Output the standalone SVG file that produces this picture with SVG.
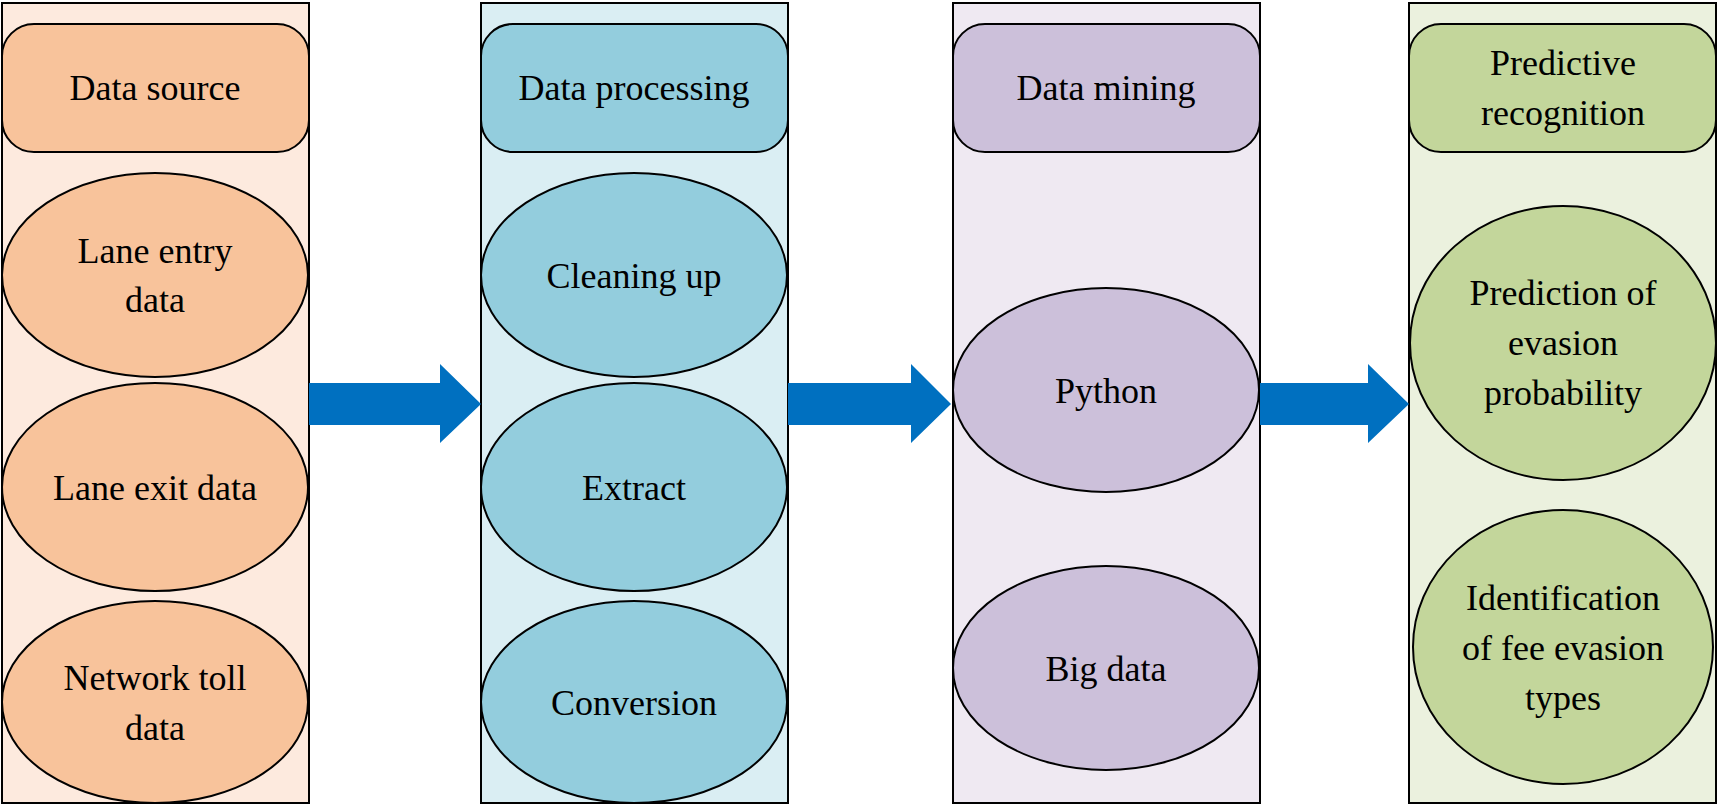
<svg xmlns="http://www.w3.org/2000/svg" width="1725" height="805" viewBox="0 0 1725 805">
<style>
text{font-family:"Liberation Serif","Times New Roman",serif;font-size:36px;fill:#000;text-anchor:middle}
.s{stroke:#000;stroke-width:2}
.a{fill:#0070c0}
</style>
<rect width="1725" height="805" fill="#fff"/>
<g id="panel1">
<rect class="s" x="2" y="3" width="307" height="800" fill="#fdeade"/>
<rect class="s" x="2" y="24" width="307" height="128" rx="32" fill="#f8c39b"/>
<text x="155" y="100">Data source</text>
<ellipse class="s" cx="155" cy="275" rx="153" ry="102" fill="#f8c39b"/>
<text x="155" y="263">Lane entry</text><text x="155" y="312">data</text>
<ellipse class="s" cx="155" cy="487" rx="153" ry="104" fill="#f8c39b"/>
<text x="155" y="500">Lane exit data</text>
<ellipse class="s" cx="155" cy="702" rx="153" ry="101" fill="#f8c39b"/>
<text x="155" y="690">Network toll</text><text x="155" y="740">data</text>
</g>
<g id="panel2">
<rect class="s" x="481" y="3" width="307" height="800" fill="#daeef3"/>
<rect class="s" x="481" y="24" width="307" height="128" rx="32" fill="#93cddd"/>
<text x="634" y="100">Data processing</text>
<ellipse class="s" cx="634" cy="275" rx="153" ry="102" fill="#93cddd"/>
<text x="634" y="288">Cleaning up</text>
<ellipse class="s" cx="634" cy="487" rx="153" ry="104" fill="#93cddd"/>
<text x="634" y="500">Extract</text>
<ellipse class="s" cx="634" cy="702" rx="153" ry="101" fill="#93cddd"/>
<text x="634" y="715">Conversion</text>
</g>
<g id="panel3">
<rect class="s" x="953" y="3" width="307" height="800" fill="#efe9f2"/>
<rect class="s" x="953" y="24" width="307" height="128" rx="32" fill="#ccc0da"/>
<text x="1106" y="100">Data mining</text>
<ellipse class="s" cx="1106" cy="390" rx="153" ry="102" fill="#ccc0da"/>
<text x="1106" y="403">Python</text>
<ellipse class="s" cx="1106" cy="668" rx="153" ry="102" fill="#ccc0da"/>
<text x="1106" y="681">Big data</text>
</g>
<g id="panel4">
<rect class="s" x="1409" y="3" width="307" height="800" fill="#ebf1de"/>
<rect class="s" x="1409" y="24" width="307" height="128" rx="32" fill="#c3d69b"/>
<text x="1563" y="75">Predictive</text><text x="1563" y="125">recognition</text>
<ellipse class="s" cx="1563" cy="343" rx="153" ry="137" fill="#c3d69b"/>
<text x="1563" y="305">Prediction of</text><text x="1563" y="355">evasion</text><text x="1563" y="405">probability</text>
<ellipse class="s" cx="1563" cy="647" rx="150" ry="137" fill="#c3d69b"/>
<text x="1563" y="610">Identification</text><text x="1563" y="660">of fee evasion</text><text x="1563" y="710">types</text>
</g>
<g id="connectors">
<polygon class="a" points="309,383 440,383 440,364 481,404 440,443 440,425 309,425"/>
<polygon class="a" points="788,383 911,383 911,364 951,404 911,443 911,425 788,425"/>
<polygon class="a" points="1260,383 1368,383 1368,364 1409,404 1368,443 1368,425 1260,425"/>
</g>
</svg>
